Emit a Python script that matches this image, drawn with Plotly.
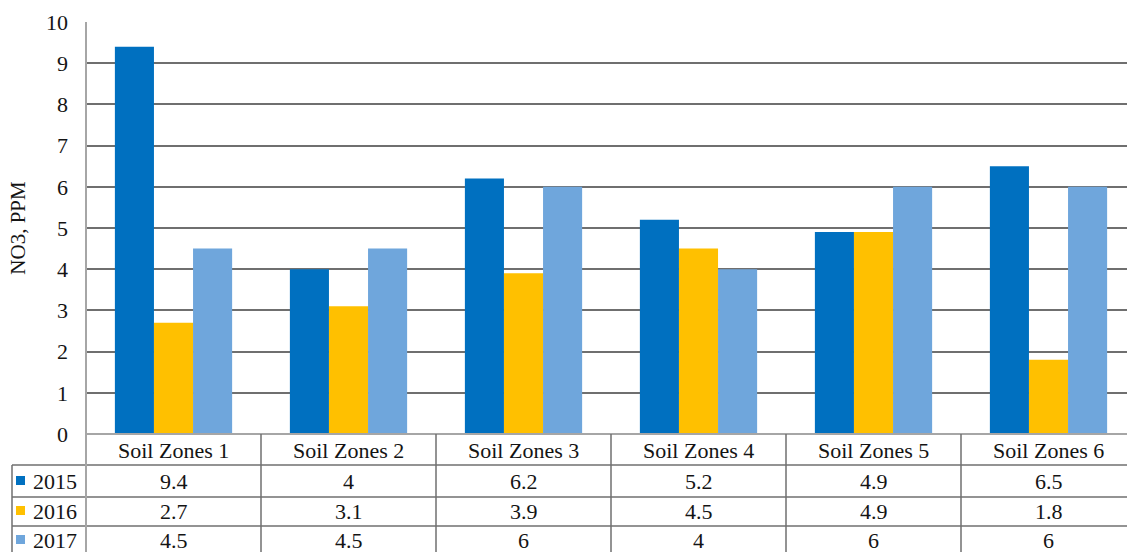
import plotly.graph_objects as go

categories = ["Soil Zones 1", "Soil Zones 2", "Soil Zones 3", "Soil Zones 4", "Soil Zones 5", "Soil Zones 6"]
series_names = ["2015", "2016", "2017"]
v2015 = [9.4, 4, 6.2, 5.2, 4.9, 6.5]
v2016 = [2.7, 3.1, 3.9, 4.5, 4.9, 1.8]
v2017 = [4.5, 4.5, 6, 4, 6, 6]
y_ticks = [0, 1, 2, 3, 4, 5, 6, 7, 8, 9, 10]

colors = ["#0070C0", "#FFC000", "#6FA6DC"]
series = [v2015, v2016, v2017]

W, H = 1127, 552
L, R, T, B = 86, 0, 22, 118
pw, ph = W - L - R, H - T - B

def px_y(py):
    return (H - B - py) / ph

def px_x(px):
    return (px - L) / pw

FONT = "Liberation Serif"
TXT = "#141414"
FS = 22
xs = list(range(len(categories)))

fig = go.Figure()
for name, vals, c in zip(series_names, series, colors):
    fig.add_trace(go.Bar(x=xs, y=vals, name=name, marker=dict(color=c, line=dict(width=0))))

shapes = []
annotations = []
line_dark = dict(color="#6F6F6F", width=1.5)
line_axis = dict(color="#A6A6A6", width=2)

row_tops = [465, 497, 526]
row_centers = [481, 511, 540]
header_center = 450

for py in row_tops:
    shapes.append(dict(type="line", xref="paper", yref="paper", x0=px_x(12), x1=1.0,
                       y0=px_y(py), y1=px_y(py), line=line_dark, layer="above"))
shapes.append(dict(type="line", xref="paper", yref="paper", x0=0, x1=1.0,
                   y0=0, y1=0, line=line_axis, layer="above"))
shapes.append(dict(type="line", xref="paper", yref="paper", x0=px_x(12), x1=px_x(12),
                   y0=px_y(465), y1=px_y(H + 5), line=line_dark, layer="above"))
shapes.append(dict(type="line", xref="paper", yref="paper", x0=0, x1=0,
                   y0=1, y1=px_y(H + 5), line=line_axis, layer="above"))
for i in range(len(categories) - 1):
    shapes.append(dict(type="line", xref="x", yref="paper", x0=i + 0.5, x1=i + 0.5,
                       y0=0, y1=px_y(H + 5), line=line_dark, layer="above"))

for i, cat in enumerate(categories):
    annotations.append(dict(x=i, y=px_y(header_center), xref="x", yref="paper", text=cat,
                            showarrow=False, font=dict(family=FONT, size=FS, color=TXT),
                            xanchor="center", yanchor="middle"))
for r, (name, vals, c) in enumerate(zip(series_names, series, colors)):
    cy = px_y(row_centers[r])
    for i, v in enumerate(vals):
        annotations.append(dict(x=i, y=cy, xref="x", yref="paper", text=f"{v:g}",
                                showarrow=False, font=dict(family=FONT, size=FS, color=TXT),
                                xanchor="center", yanchor="middle"))
    shapes.append(dict(type="rect", xref="paper", yref="paper",
                       x0=px_x(16), x1=px_x(25), y0=px_y(row_centers[r] + 4), y1=px_y(row_centers[r] - 5),
                       fillcolor=c, line=dict(width=0), layer="above"))
    annotations.append(dict(x=px_x(31), y=cy, xref="paper", yref="paper", text=name,
                            showarrow=False, font=dict(family=FONT, size=FS, color=TXT),
                            xanchor="left", yanchor="middle"))

fig.update_layout(
    width=W, height=H,
    margin=dict(l=L, r=R, t=T, b=B, pad=0),
    paper_bgcolor="white", plot_bgcolor="white",
    barmode="group", bargap=0.33, bargroupgap=0,
    showlegend=False,
    font=dict(family=FONT, size=FS, color=TXT),
    xaxis=dict(range=[-0.5, -0.5 + pw / 175.0], showticklabels=False, showgrid=False,
               zeroline=False, showline=False, ticks="", fixedrange=True),
    yaxis=dict(range=[0, 10], tickvals=y_ticks, showgrid=True, gridcolor="#6F6F6F", gridwidth=1.5,
               zeroline=False, showline=False, ticks="", ticklabelstandoff=17,
               tickfont=dict(family=FONT, size=FS, color=TXT),
               title=dict(text="NO3, PPM", font=dict(family=FONT, size=21, color=TXT), standoff=14)),
    shapes=shapes,
    annotations=annotations,
)

fig.write_html("out.html")
